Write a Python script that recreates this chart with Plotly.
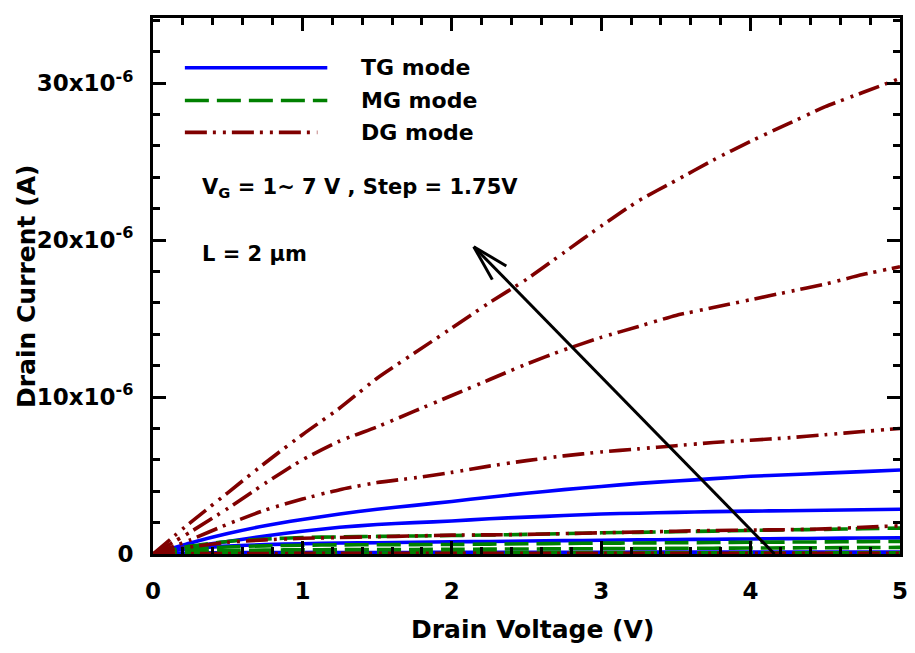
import math
import plotly.graph_objects as go

# Drain voltage (V)
VD = [0.0, 0.25, 0.5, 0.75, 1.0, 1.25, 1.5, 1.75, 2.0, 2.25, 2.5, 2.75, 3.0,
      3.25, 3.5, 3.75, 4.0, 4.25, 4.5, 4.75, 5.0]

# Drain current in micro-amps
TG_1 = [0, 0.7, 1.3, 1.8, 2.2, 2.55, 2.85, 3.1, 3.35, 3.62, 3.87, 4.1, 4.3, 4.5, 4.65, 4.8, 4.95, 5.05, 5.15, 5.25, 5.35]
TG_2 = [0, 0.45, 0.8, 1.15, 1.45, 1.7, 1.88, 2.0, 2.1, 2.25, 2.35, 2.45, 2.55, 2.6, 2.65, 2.7, 2.73, 2.76, 2.79, 2.82, 2.85]
TG_3 = [0, 0.35, 0.5, 0.6, 0.65, 0.7, 0.72, 0.75, 0.78, 0.8, 0.83, 0.85, 0.88, 0.9, 0.92, 0.94, 0.96, 0.98, 1.0, 1.02, 1.03]
TG_4 = [0, 0.06, 0.08, 0.09, 0.1, 0.1, 0.1, 0.1, 0.11, 0.11, 0.11, 0.11, 0.11, 0.12, 0.12, 0.12, 0.12, 0.12, 0.12, 0.12, 0.12]
TG_5 = [0, 0.01, 0.01, 0.01, 0.01, 0.01, 0.01, 0.01, 0.01, 0.01, 0.01, 0.01, 0.01, 0.01, 0.01, 0.01, 0.01, 0.01, 0.01, 0.01, 0.01]

MG_1 = [0, 0.5, 0.8, 0.95, 1.05, 1.09, 1.12, 1.15, 1.18, 1.21, 1.25, 1.3, 1.35, 1.38, 1.42, 1.46, 1.5, 1.54, 1.57, 1.61, 1.65]
MG_2 = [0, 0.3, 0.45, 0.52, 0.56, 0.58, 0.59, 0.6, 0.61, 0.63, 0.65, 0.67, 0.69, 0.7, 0.72, 0.73, 0.75, 0.76, 0.77, 0.79, 0.8]
MG_3 = [0, 0.16, 0.22, 0.25, 0.27, 0.28, 0.29, 0.29, 0.3, 0.31, 0.32, 0.33, 0.34, 0.35, 0.36, 0.37, 0.38, 0.39, 0.4, 0.41, 0.42]
MG_4 = [0, 0.04, 0.05, 0.06, 0.06, 0.06, 0.06, 0.07, 0.07, 0.07, 0.07, 0.07, 0.07, 0.07, 0.08, 0.08, 0.08, 0.08, 0.08, 0.08, 0.08]
MG_5 = [0, 0.01, 0.01, 0.01, 0.01, 0.01, 0.01, 0.01, 0.01, 0.01, 0.01, 0.01, 0.01, 0.01, 0.01, 0.01, 0.01, 0.01, 0.01, 0.01, 0.01]

DG_1 = [0, 2.0, 3.9, 5.8, 7.6, 9.3, 11.2, 12.8, 14.4, 16.0, 17.5, 19.2, 20.9, 22.5, 23.8, 25.1, 26.3, 27.4, 28.5, 29.4, 30.3]
DG_2 = [0, 1.4, 2.9, 4.5, 6.0, 7.2, 8.1, 9.1, 10.1, 11.1, 12.1, 13.0, 13.8, 14.5, 15.2, 15.7, 16.2, 16.7, 17.2, 17.8, 18.3]
DG_3 = [0, 0.9, 1.9, 2.8, 3.5, 4.1, 4.55, 4.85, 5.2, 5.6, 5.95, 6.25, 6.5, 6.7, 6.9, 7.1, 7.25, 7.4, 7.6, 7.8, 8.0]
DG_4 = [0, 0.45, 0.75, 0.9, 1.0, 1.05, 1.1, 1.15, 1.2, 1.22, 1.25, 1.3, 1.35, 1.4, 1.45, 1.5, 1.52, 1.55, 1.6, 1.7, 1.8]
DG_5 = [0, 0.02, 0.03, 0.03, 0.04, 0.04, 0.04, 0.04, 0.04, 0.04, 0.05, 0.05, 0.05, 0.05, 0.05, 0.05, 0.05, 0.05, 0.05, 0.05, 0.05]

SERIES = {
    "TG mode": [TG_1, TG_2, TG_3, TG_4, TG_5],
    "MG mode": [MG_1, MG_2, MG_3, MG_4, MG_5],
    "DG mode": [DG_1, DG_2, DG_3, DG_4, DG_5],
}
Y_TICKS = [0, 10e-6, 20e-6, 30e-6]
Y_TICK_TEXT = ["0", "10x10<sup>-6</sup>", "20x10<sup>-6</sup>", "30x10<sup>-6</sup>"]
X_TICKS = [0, 1, 2, 3, 4, 5]

STYLE = {
    "TG mode": dict(color="#0000FF", dash="solid"),
    "MG mode": dict(color="#008000", dash="24px,8px"),
    "DG mode": dict(color="#800000", dash="22px,6px,3px,7px,3px,6px"),
}

OFF = 8  # page body margin
W, H = 915 - OFF, 653 - OFF
ML, MR, MT, MB = 153 - OFF, 12, 15 - OFF, 99
PW, PH = W - ML - MR, H - MT - MB
XR = [0, 5]
YR = [0, 34.15e-6]

FONT = "DejaVu Sans"

fig = go.Figure()
for name, curves in SERIES.items():
    st = STYLE[name]
    for c in curves:
        fig.add_trace(go.Scatter(
            x=VD, y=[v * 1e-6 for v in c], mode="lines", name=name,
            line=dict(color=st["color"], dash=st["dash"], width=3.6, shape="spline", smoothing=0.6),
            showlegend=False, hoverinfo="skip"))

# helpers: reference-screen pixel -> paper
def px(xp):
    return (xp - OFF - ML) / PW

def py(yp):
    return (H - MB - (yp - OFF)) / PH

shapes = []
annotations = []

# manual legend
leg = [("TG mode", 65, 328), ("MG mode", 98, 328), ("DG mode", 130, 318)]
for name, ypix, xend in leg:
    st = STYLE[name]
    shapes.append(dict(type="line", xref="paper", yref="paper",
                       x0=px(185), x1=px(xend), y0=py(ypix), y1=py(ypix),
                       line=dict(color=st["color"], dash=st["dash"], width=3.6)))
    annotations.append(dict(text=name, xref="paper", yref="paper",
                            x=px(360), y=py(ypix), xanchor="left", yanchor="middle",
                            showarrow=False,
                            font=dict(family=FONT, size=22, color="black", weight="bold")))

annotations.append(dict(text="V<sub>G</sub> = 1~ 7 V , Step = 1.75V", xref="paper", yref="paper",
                        x=px(200), y=py(186), xanchor="left", yanchor="middle", showarrow=False,
                        font=dict(family=FONT, size=21, color="black", weight="bold")))
annotations.append(dict(text="L = 2 \u03bcm", xref="paper", yref="paper",
                        x=px(200), y=py(252), xanchor="left", yanchor="middle", showarrow=False,
                        font=dict(family=FONT, size=21, color="black", weight="bold")))

# axis titles
annotations.append(dict(text="Drain Voltage (V)", xref="paper", yref="paper",
                        x=px(534), y=py(630), xanchor="center", yanchor="middle", showarrow=False,
                        font=dict(family=FONT, size=25, color="black", weight="bold")))
annotations.append(dict(text="Drain Current (A)", xref="paper", yref="paper",
                        x=px(26), y=py(285), xanchor="center", yanchor="middle", showarrow=False,
                        textangle=-90,
                        font=dict(family=FONT, size=25, color="black", weight="bold")))

# arrow (data coordinates)
tail = (4.16, 0.0)
head = (2.147, 19.58e-6)
sx = PW / (XR[1] - XR[0])
sy = PH / (YR[1] - YR[0])
shapes.append(dict(type="line", xref="x", yref="y", x0=tail[0], y0=tail[1], x1=head[0], y1=head[1],
                   line=dict(color="black", width=3)))
dxp = (tail[0] - head[0]) * sx
dyp = (tail[1] - head[1]) * sy
L = math.hypot(dxp, dyp)
ux, uy = dxp / L, dyp / L
for ang in (15, -15):
    a = math.radians(ang)
    rx = ux * math.cos(a) - uy * math.sin(a)
    ry = ux * math.sin(a) + uy * math.cos(a)
    shapes.append(dict(type="line", xref="x", yref="y", x0=head[0], y0=head[1],
                       x1=head[0] + rx * 38 / sx, y1=head[1] + ry * 38 / sy,
                       line=dict(color="black", width=3)))

tickfont = dict(family=FONT, size=23, color="black", weight="bold")
fig.update_layout(
    width=W, height=H,
    margin=dict(l=ML, r=MR, t=MT, b=MB, pad=0),
    paper_bgcolor="white", plot_bgcolor="white",
    showlegend=False,
    shapes=shapes, annotations=annotations,
    xaxis=dict(range=XR, tickvals=X_TICKS, ticks="inside", ticklen=13, tickwidth=3,
               tickcolor="black", showline=True, linecolor="black", linewidth=3,
               mirror="allticks", showgrid=False, zeroline=False, tickfont=tickfont,
               ticklabelstandoff=14,
               minor=dict(dtick=0.2, tick0=0, ticks="inside", ticklen=7, tickwidth=3,
                          tickcolor="black", showgrid=False)),
    yaxis=dict(range=YR, tickvals=Y_TICKS, ticktext=Y_TICK_TEXT, ticks="inside", ticklen=13,
               tickwidth=3, tickcolor="black", showline=True, linecolor="black", linewidth=3,
               mirror="allticks", showgrid=False, zeroline=False, tickfont=tickfont,
               ticklabelstandoff=12,
               minor=dict(dtick=2e-6, tick0=0, ticks="inside", ticklen=7, tickwidth=3,
                          tickcolor="black", showgrid=False)),
)

fig.write_html("out.html")
